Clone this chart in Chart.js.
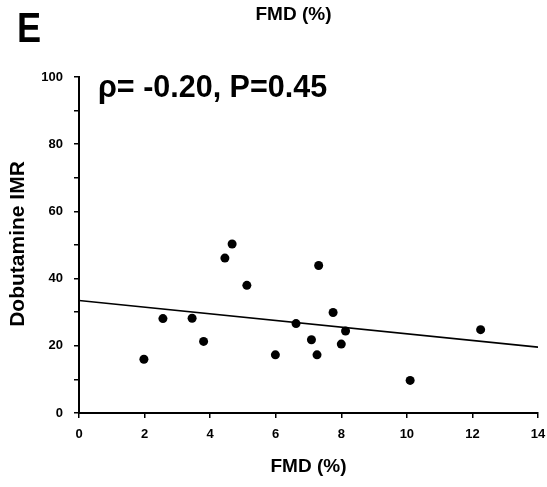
<!DOCTYPE html>
<html>
<head>
<meta charset="utf-8">
<script src="https://cdn.jsdelivr.net/npm/chart.js@4.4.1/dist/chart.umd.min.js"></script>
<style>
  body { margin: 0; background: #fff; }
  #wrap { position: relative; width: 547px; height: 487px; font-family: "Liberation Sans", Arial, sans-serif; color: #000; }
  #wrap canvas { position: absolute; left: 0; top: 0; }
  .lbl { position: absolute; font-weight: bold; line-height: 1; white-space: nowrap; }
</style>
</head>
<body>
<div id="wrap">
  <canvas id="scatter" width="547" height="487"></canvas>
  <!-- panel letter, top caption, stats and y title -->
  <div class="lbl" style="left:17px;top:6.5px;font-size:42px;transform:scaleX(0.86);transform-origin:left top;">E</div>
  <div class="lbl" style="left:293.5px;top:3.5px;font-size:19px;transform:translateX(-50%);">FMD (%)</div>
  <div class="lbl" style="left:98px;top:71px;font-size:30.5px;">ρ= -0.20, P=0.45</div>
  <div class="lbl" style="left:16px;top:243.5px;font-size:21px;transform:translate(-50%,-50%) rotate(-90deg);">Dobutamine IMR</div>
</div>
<script>
  // FMD (%) vs dobutamine IMR, one point per patient
  var fmd = [1.98, 2.56, 3.45, 3.80, 4.45, 4.67, 5.12, 5.99, 6.62, 7.09, 7.26, 7.31, 7.75, 8.00, 8.13, 10.1, 12.25];
  var imr = [16.0, 28.1, 28.2, 21.3, 46.1, 50.3, 38.0, 17.3, 26.6, 21.8, 17.3, 43.9, 29.9, 20.5, 24.4, 9.7, 24.8];
  // regression line end points
  var fitX = [0, 14];
  var fitY = [33.5, 19.6];

  Chart.defaults.font.family = '"Liberation Sans", Arial, sans-serif';
  Chart.defaults.color = '#000';

  var pts = fmd.map(function (x, i) { return { x: x, y: imr[i] }; });
  var fit = fitX.map(function (x, i) { return { x: x, y: fitY[i] }; });

  var axisGrid = { drawOnChartArea: false, drawTicks: true, tickLength: 5, color: '#000', lineWidth: 1.5 };
  var axisBorder = { display: true, color: '#000', width: 2 };

  new Chart(document.getElementById('scatter').getContext('2d'), {
    type: 'scatter',
    data: {
      datasets: [
        {
          data: pts,
          backgroundColor: '#000',
          borderWidth: 0,
          pointRadius: 4.5
        },
        {
          type: 'line',
          data: fit,
          borderColor: '#000',
          borderWidth: 1.6,
          pointRadius: 0,
          fill: false
        }
      ]
    },
    options: {
      responsive: false,
      animation: false,
      layout: { padding: { top: 77, right: 9, left: 0, bottom: 0 } },
      plugins: { legend: { display: false }, tooltip: { enabled: false } },
      scales: {
        x: {
          type: 'linear',
          min: 0,
          max: 14,
          grid: axisGrid,
          border: axisBorder,
          ticks: { stepSize: 2, padding: 9, font: { size: 13, weight: 'bold' } },
          title: { display: true, text: 'FMD (%)', font: { size: 19, weight: 'bold' }, padding: { top: 0, bottom: 9 } },
          afterFit: function (s) {
            s.height = 74;
            // the "14" label may hang over the right edge
            s.paddingRight = 0;
          }
        },
        y: {
          min: 0,
          max: 100,
          grid: axisGrid,
          border: axisBorder,
          ticks: {
            stepSize: 10,
            padding: 11,
            font: { size: 13, weight: 'bold' },
            callback: function (v) { return v % 20 === 0 ? v : ''; }
          },
          afterFit: function (s) { s.width = 79; }
        }
      }
    }
  });
</script>
</body>
</html>
